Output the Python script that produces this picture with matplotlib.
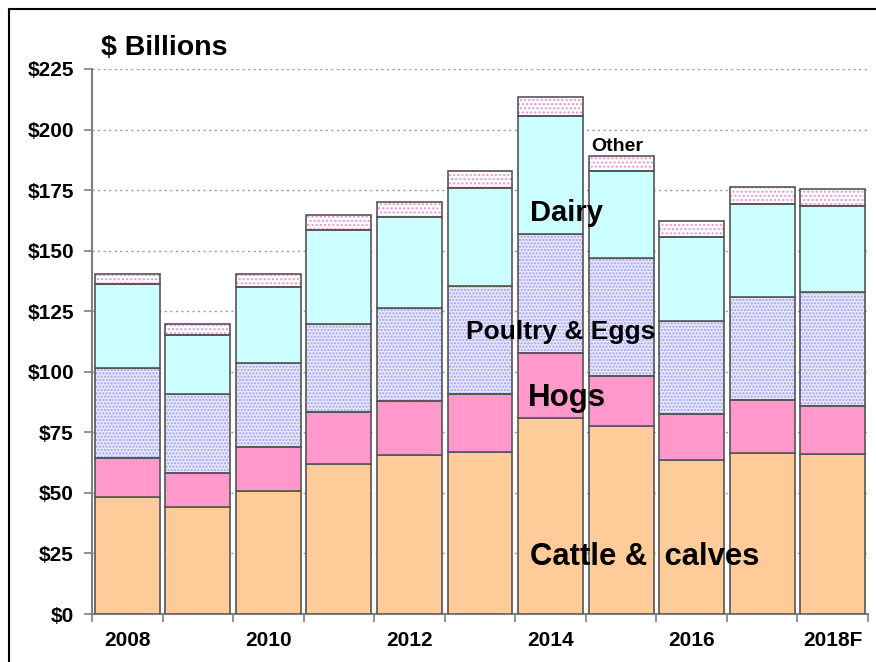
import matplotlib
matplotlib.use("Agg")
import matplotlib.pyplot as plt
from matplotlib.lines import Line2D
import numpy as np

plt.rcParams['font.family'] = ['Liberation Sans', 'DejaVu Sans']
plt.rcParams['font.weight'] = 'bold'
plt.rcParams['hatch.linewidth'] = 1.0

years = ["2008", "2009", "2010", "2011", "2012", "2013", "2014", "2015", "2016", "2017", "2018F"]
cattle = [48.3, 44.2, 50.8, 61.9, 65.6, 67.0, 80.8, 77.8, 63.6, 66.6, 65.9]
hogs = [16.1, 14.1, 18.0, 21.4, 22.3, 23.8, 27.1, 20.5, 18.8, 21.8, 20.1]
poultry = [37.2, 32.4, 34.7, 36.4, 38.3, 44.6, 48.9, 48.6, 38.6, 42.5, 46.9]
dairy = [34.7, 24.4, 31.6, 39.0, 37.7, 40.6, 48.8, 36.1, 34.8, 38.4, 35.7]
other = [4.1, 4.5, 5.3, 6.0, 6.1, 6.9, 8.0, 6.1, 6.6, 6.9, 6.8]
tick_labels = ["2008", "", "2010", "", "2012", "", "2014", "", "2016", "", "2018F"]
yticks = [0, 25, 50, 75, 100, 125, 150, 175, 200, 225]

fig = plt.figure(figsize=(8.76, 6.62), dpi=100)
ax = fig.add_axes([92/876, 48/662, (868-92)/876, (614-69)/662])

x = np.arange(len(years))
w = 0.92
edge = '#555555'

layers = [
    (cattle, '#FFCC99', None, None),
    (hogs, '#FF99CC', None, None),
    (poultry, '#E6E6FF', '.....', '#A0A0F0'),
    (dairy, '#CCFFFF', None, None),
    (other, '#FFFFFF', '....', '#F090D8'),
]
bottom = np.zeros(len(years))
for vals, fc, hatch, hc in layers:
    vals = np.array(vals)
    if hatch:
        ax.bar(x, vals, w, bottom=bottom, color=fc, hatch=hatch, edgecolor=hc, linewidth=0, zorder=2)
        ax.bar(x, vals, w, bottom=bottom, fill=False, edgecolor=edge, linewidth=1.2, zorder=3)
    else:
        ax.bar(x, vals, w, bottom=bottom, color=fc, edgecolor=edge, linewidth=1.2, zorder=3)
    bottom += vals

ax.set_xlim(-0.5, len(years) - 0.5)
ax.set_ylim(0, 225)
ax.set_yticks(yticks)
ax.set_yticklabels(['$%d' % v for v in yticks])
ax.set_xticks(np.arange(-0.5, len(years)), minor=False)
ax.set_xticklabels([])
ax.set_xticks(x, minor=True)
ax.set_xticklabels(tick_labels, minor=True)
ax.tick_params(axis='x', which='major', length=6, color='#808080', width=1.2, direction='out')
ax.tick_params(axis='x', which='minor', length=0, pad=12, labelsize=15)
ax.tick_params(axis='y', length=6, color='#808080', width=1.2, pad=7, labelsize=15)
for t in ax.get_xticklabels(minor=True) + ax.get_yticklabels():
    t.set_fontweight('bold')

for s in ['top', 'right']:
    ax.spines[s].set_visible(False)
for s in ['left', 'bottom']:
    ax.spines[s].set_color('#808080')
    ax.spines[s].set_linewidth(1.5)

ax.yaxis.grid(True, linestyle=(0, (1.5, 2.5)), color='#999999', linewidth=1.0, zorder=0)
ax.set_axisbelow(True)

ax.text(-0.37, 233.6, '$ Billions', fontsize=20.5, fontweight='bold', ha='left', va='center')
ax.text(5.71, 165.6, 'Dairy', fontsize=21, fontweight='bold', ha='left', va='center')
ax.text(4.80, 116.5, 'Poultry & Eggs', fontsize=19, fontweight='bold', ha='left', va='center')
ax.text(5.68, 89.2, 'Hogs', fontsize=22.5, fontweight='bold', ha='left', va='center')
ax.text(5.71, 23.7, 'Cattle &  calves', fontsize=22.3, fontweight='bold', ha='left', va='center')
ax.text(6.57, 192.8, 'Other', fontsize=14, fontweight='bold', ha='left', va='center')

fig.add_artist(Line2D([9/876, 9/876], [0, 1 - 9/662], transform=fig.transFigure, color='black', linewidth=1.5))
fig.add_artist(Line2D([9/876, 1], [1 - 9/662, 1 - 9/662], transform=fig.transFigure, color='black', linewidth=1.5))

fig.savefig('out.png', dpi=100)
